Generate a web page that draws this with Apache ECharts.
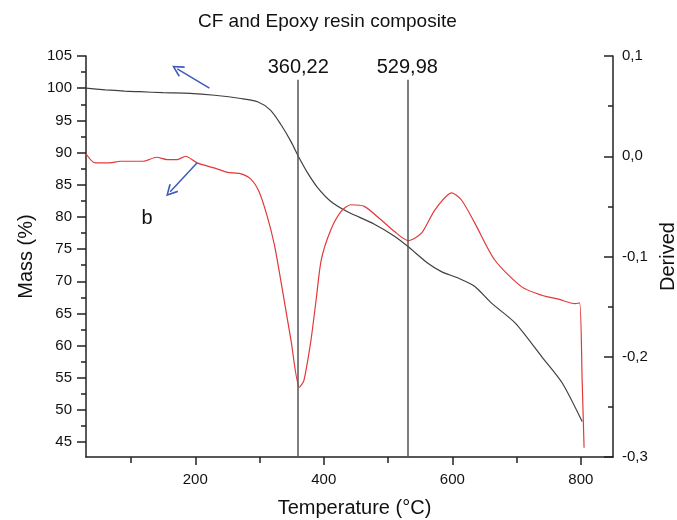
<!DOCTYPE html>
<html><head><meta charset="utf-8">
<script src="https://cdn.jsdelivr.net/npm/echarts@6/dist/echarts.min.js"></script>
<style>html,body{margin:0;padding:0;background:#fff}#c{width:677px;height:520px}</style>
</head><body><div id="c"></div>
<script>
// Mass (TG) curve
const massTemp = [30, 60, 90, 114, 150, 192, 230, 271, 297, 317, 333, 349, 362, 375, 390, 411, 437, 478, 510, 531, 562, 583, 609, 635, 661, 698, 739, 771, 802];
const massVal  = [100.0, 99.75, 99.55, 99.45, 99.3, 99.2, 98.9, 98.4, 97.9, 96.6, 94.4, 91.7, 89.1, 86.8, 84.6, 82.4, 80.8, 78.9, 77.0, 75.4, 72.8, 71.5, 70.5, 69.2, 66.6, 63.5, 58.3, 54.2, 48.2];
// Derivative (DTG) curve
const derivTemp = [30, 44, 67, 83, 119, 140, 156, 172, 185, 203, 229, 250, 270, 286, 299, 312, 323, 333, 349, 362, 369, 380, 388, 396, 411, 427, 442, 463, 489, 510, 531, 552, 573, 599, 614, 635, 666, 708, 739, 765, 791, 798, 802, 805];
const derivVal  = [0.0025, -0.0066, -0.0066, -0.005, -0.005, -0.001, -0.0033, -0.0033, 0.0, -0.0066, -0.0116, -0.016, -0.0173, -0.0226, -0.035, -0.060, -0.088, -0.1236, -0.1837, -0.2305, -0.2238, -0.1837, -0.1436, -0.1035, -0.0734, -0.0551, -0.0484, -0.050, -0.0634, -0.0751, -0.0841, -0.0767, -0.0534, -0.0366, -0.0434, -0.0667, -0.1035, -0.1303, -0.1386, -0.1426, -0.147, -0.1463, -0.2238, -0.2907];
// Peak markers
const markerTemps = [360.22, 529.98];
// Tick labels
const xLabels = [200, 400, 600, 800];
const xMinor = [100, 300, 500, 700];
const massLabels = [45, 50, 55, 60, 65, 70, 75, 80, 85, 90, 95, 100, 105];
const massMinor = [47.5, 52.5, 57.5, 62.5, 67.5, 72.5, 77.5, 82.5, 87.5, 92.5, 97.5, 102.5];
// Annotation arrows [fromT, fromMass, toT, toMass]
const arrows = [[222, 100.0, 172, 103.0], [203, 88.4, 161, 83.9]];

const FONT = '"Liberation Sans", Arial, sans-serif';
const AX = '#222';
const fmtComma = (v, d) => v.toFixed(d).replace('.', ',');
const arrowPath = 'path://M0,0 L6,10 L4.6,11 L0,3 L-4.6,11 L-6,10 Z';

const massData = massTemp.map((t, i) => [t, massVal[i]]);
const derivData = derivTemp.map((t, i) => [t, derivVal[i]]);

const markLines = markerTemps.map(t => [
  {coord: [t, 42.7], symbol: 'none', lineStyle: {color: '#555', width: 1.5, type: 'solid'},
   label: {show: true, position: 'end', formatter: fmtComma(t, 2), fontSize: 20, color: '#111', fontFamily: FONT, distance: 2}},
  {coord: [t, 101.3], symbol: 'none'}
]).concat(arrows.map(a => [
  {coord: [a[0], a[1]], symbol: 'none', lineStyle: {color: '#3c5cb8', width: 1.5, type: 'solid'}, label: {show: false}},
  {coord: [a[2], a[3]], symbol: arrowPath, symbolSize: [12, 12]}
]));

const chart = echarts.init(document.getElementById('c'), null, {renderer: 'canvas'});
chart.setOption({
  animation: false,
  backgroundColor: '#fff',
  title: {text: 'CF and Epoxy resin composite', left: 193, top: 7,
    textStyle: {fontFamily: FONT, fontSize: 19, fontWeight: 'normal', color: '#111'}},
  grid: {left: 86, right: 64, top: 56, bottom: 63, outerBoundsMode: 'none', containLabel: false},
  xAxis: [
    {type: 'value', min: 30, max: 850, position: 'bottom',
     name: 'Temperature (°C)', nameLocation: 'middle', nameGap: 41,
     nameTextStyle: {fontFamily: FONT, fontSize: 20, color: '#111', padding: [0, 0, 0, 10]},
     axisLine: {show: true, onZero: false, lineStyle: {color: AX, width: 1.5}},
     axisTick: {show: true, inside: false, length: 8, customValues: xLabels, lineStyle: {color: AX, width: 1.5}},
     axisLabel: {show: true, customValues: xLabels, margin: 15, fontFamily: FONT, fontSize: 15, color: '#111'},
     splitLine: {show: false}},
    {type: 'value', min: 30, max: 850, position: 'bottom',
     axisLine: {show: false, onZero: false},
     axisTick: {show: true, inside: false, length: 6, customValues: xMinor, lineStyle: {color: AX, width: 1.5}},
     axisLabel: {show: false}, splitLine: {show: false}}
  ],
  yAxis: [
    {type: 'value', min: 42.7, max: 105, position: 'left',
     name: 'Mass (%)', nameLocation: 'middle', nameGap: 49, nameRotate: 90,
     nameTextStyle: {fontFamily: FONT, fontSize: 20, color: '#111'},
     axisLine: {show: true, onZero: false, lineStyle: {color: AX, width: 1.5}},
     axisTick: {show: true, inside: false, length: 9, customValues: massLabels, lineStyle: {color: AX, width: 1.5}},
     axisLabel: {show: true, customValues: massLabels, margin: 14, fontFamily: FONT, fontSize: 15, color: '#111'},
     splitLine: {show: false}},
    {type: 'value', min: 42.7, max: 105, position: 'left',
     axisLine: {show: false, onZero: false},
     axisTick: {show: true, inside: false, length: 5, customValues: massMinor, lineStyle: {color: AX, width: 1.5}},
     axisLabel: {show: false}, splitLine: {show: false}},
    {type: 'value', min: -0.3, max: 0.1, interval: 0.1, position: 'right',
     name: 'Derived', nameLocation: 'middle', nameGap: 42, nameRotate: 90,
     nameTextStyle: {fontFamily: FONT, fontSize: 20, color: '#111'},
     axisLine: {show: true, onZero: false, lineStyle: {color: AX, width: 1.5}},
     axisTick: {show: true, inside: true, length: 9, lineStyle: {color: AX, width: 1.5}},
     minorTick: {show: true, splitNumber: 2, length: 5, lineStyle: {color: AX, width: 1.5}},
     axisLabel: {show: true, margin: 9, fontFamily: FONT, fontSize: 15, color: '#111',
       formatter: v => fmtComma(Math.abs(v) < 1e-9 ? 0 : v, 1)},
     splitLine: {show: false}}
  ],
  series: [
    {name: 'Mass', type: 'line', xAxisIndex: 0, yAxisIndex: 0, data: massData,
     showSymbol: false, smooth: 0.25,
     lineStyle: {color: '#404040', width: 1.2}, itemStyle: {color: '#404040'},
     markLine: {silent: true, animation: false, symbol: ['none', 'none'], data: markLines},
     markPoint: {silent: true, animation: false, data: [
       {coord: [125, 79.8], symbol: 'circle', symbolSize: 1, itemStyle: {color: 'rgba(0,0,0,0)'},
        label: {show: true, position: 'inside', formatter: 'b', fontSize: 20, color: '#111', fontFamily: FONT}}
     ]}},
    {name: 'Derived', type: 'line', xAxisIndex: 0, yAxisIndex: 2, data: derivData,
     showSymbol: false, smooth: 0.25,
     lineStyle: {color: '#e3383a', width: 1.2}, itemStyle: {color: '#e3383a'}}
  ]
});
</script>
</body></html>
